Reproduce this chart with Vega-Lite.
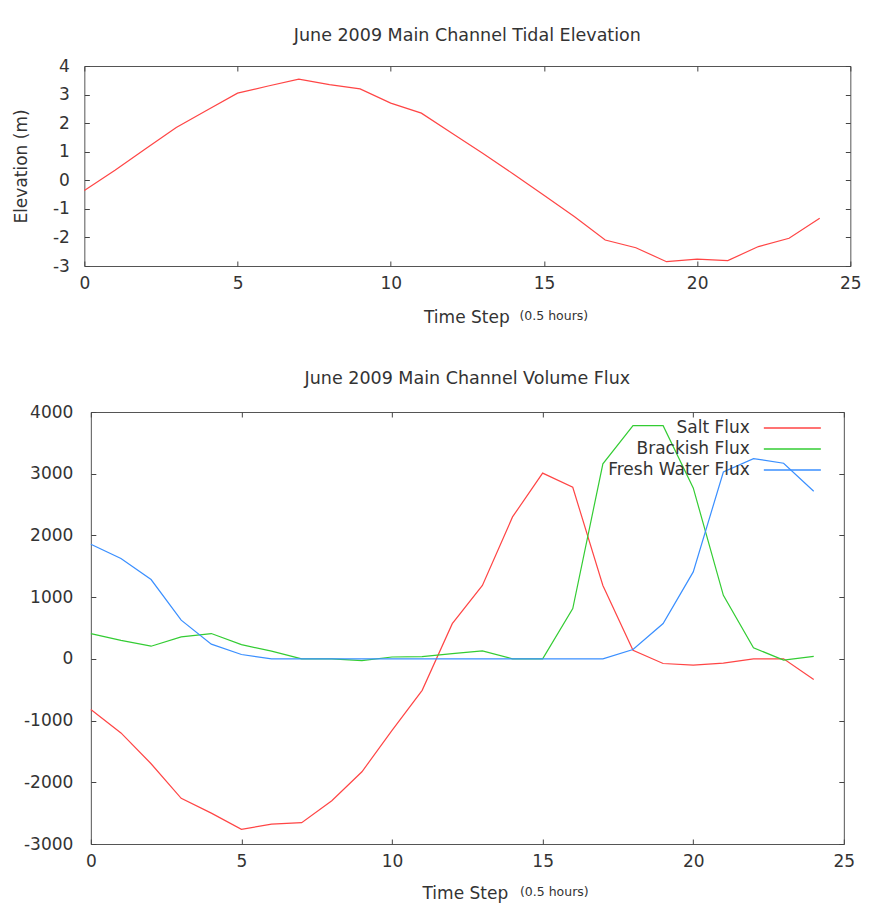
{
  "$schema": "https://vega.github.io/schema/vega-lite/v6.json",
  "padding": {"top": 26, "left": 11, "right": 4, "bottom": 4},
  "background": "white",
  "spacing": 43,
  "center": true,
  "resolve": {"legend": {"color": "independent"}},
  "datasets": {
    "elev": [
      {"t": 0, "elev": -0.36}, {"t": 1, "elev": 0.35}, {"t": 2, "elev": 1.1}, {"t": 3, "elev": 1.85},
      {"t": 4, "elev": 2.45}, {"t": 5, "elev": 3.05}, {"t": 6, "elev": 3.3}, {"t": 7, "elev": 3.54},
      {"t": 8, "elev": 3.35}, {"t": 9, "elev": 3.2}, {"t": 10, "elev": 2.7}, {"t": 11, "elev": 2.35},
      {"t": 12, "elev": 1.65}, {"t": 13, "elev": 0.95}, {"t": 14, "elev": 0.22}, {"t": 15, "elev": -0.52},
      {"t": 16, "elev": -1.28}, {"t": 17, "elev": -2.09}, {"t": 18, "elev": -2.36}, {"t": 19, "elev": -2.85},
      {"t": 20, "elev": -2.76}, {"t": 21, "elev": -2.81}, {"t": 22, "elev": -2.32}, {"t": 23, "elev": -2.03},
      {"t": 24, "elev": -1.33}
    ],
    "flux": [
      {"t": 0, "series": "Salt Flux", "v": -820}, {"t": 1, "series": "Salt Flux", "v": -1200},
      {"t": 2, "series": "Salt Flux", "v": -1700}, {"t": 3, "series": "Salt Flux", "v": -2260},
      {"t": 4, "series": "Salt Flux", "v": -2500}, {"t": 5, "series": "Salt Flux", "v": -2763},
      {"t": 6, "series": "Salt Flux", "v": -2677}, {"t": 7, "series": "Salt Flux", "v": -2655},
      {"t": 8, "series": "Salt Flux", "v": -2300}, {"t": 9, "series": "Salt Flux", "v": -1830},
      {"t": 10, "series": "Salt Flux", "v": -1160}, {"t": 11, "series": "Salt Flux", "v": -510},
      {"t": 12, "series": "Salt Flux", "v": 570}, {"t": 13, "series": "Salt Flux", "v": 1190},
      {"t": 14, "series": "Salt Flux", "v": 2300}, {"t": 15, "series": "Salt Flux", "v": 3010},
      {"t": 16, "series": "Salt Flux", "v": 2780}, {"t": 17, "series": "Salt Flux", "v": 1190},
      {"t": 18, "series": "Salt Flux", "v": 140}, {"t": 19, "series": "Salt Flux", "v": -75},
      {"t": 20, "series": "Salt Flux", "v": -100}, {"t": 21, "series": "Salt Flux", "v": -70},
      {"t": 22, "series": "Salt Flux", "v": 0}, {"t": 23, "series": "Salt Flux", "v": 0},
      {"t": 24, "series": "Salt Flux", "v": -335},
      {"t": 0, "series": "Brackish Flux", "v": 410}, {"t": 1, "series": "Brackish Flux", "v": 300},
      {"t": 2, "series": "Brackish Flux", "v": 205}, {"t": 3, "series": "Brackish Flux", "v": 355},
      {"t": 4, "series": "Brackish Flux", "v": 410}, {"t": 5, "series": "Brackish Flux", "v": 230},
      {"t": 6, "series": "Brackish Flux", "v": 125}, {"t": 7, "series": "Brackish Flux", "v": 0},
      {"t": 8, "series": "Brackish Flux", "v": 0}, {"t": 9, "series": "Brackish Flux", "v": -30},
      {"t": 10, "series": "Brackish Flux", "v": 30}, {"t": 11, "series": "Brackish Flux", "v": 35},
      {"t": 12, "series": "Brackish Flux", "v": 85}, {"t": 13, "series": "Brackish Flux", "v": 130},
      {"t": 14, "series": "Brackish Flux", "v": 0}, {"t": 15, "series": "Brackish Flux", "v": 0},
      {"t": 16, "series": "Brackish Flux", "v": 815}, {"t": 17, "series": "Brackish Flux", "v": 3160},
      {"t": 18, "series": "Brackish Flux", "v": 3778}, {"t": 19, "series": "Brackish Flux", "v": 3778},
      {"t": 20, "series": "Brackish Flux", "v": 2770}, {"t": 21, "series": "Brackish Flux", "v": 1030},
      {"t": 22, "series": "Brackish Flux", "v": 180}, {"t": 23, "series": "Brackish Flux", "v": -20},
      {"t": 24, "series": "Brackish Flux", "v": 40},
      {"t": 0, "series": "Fresh Water Flux", "v": 1857}, {"t": 1, "series": "Fresh Water Flux", "v": 1625},
      {"t": 2, "series": "Fresh Water Flux", "v": 1285}, {"t": 3, "series": "Fresh Water Flux", "v": 627},
      {"t": 4, "series": "Fresh Water Flux", "v": 238}, {"t": 5, "series": "Fresh Water Flux", "v": 71},
      {"t": 6, "series": "Fresh Water Flux", "v": 0}, {"t": 7, "series": "Fresh Water Flux", "v": 0},
      {"t": 8, "series": "Fresh Water Flux", "v": 0}, {"t": 9, "series": "Fresh Water Flux", "v": 0},
      {"t": 10, "series": "Fresh Water Flux", "v": 0}, {"t": 11, "series": "Fresh Water Flux", "v": 0},
      {"t": 12, "series": "Fresh Water Flux", "v": 0}, {"t": 13, "series": "Fresh Water Flux", "v": 0},
      {"t": 14, "series": "Fresh Water Flux", "v": 0}, {"t": 15, "series": "Fresh Water Flux", "v": 0},
      {"t": 16, "series": "Fresh Water Flux", "v": 0}, {"t": 17, "series": "Fresh Water Flux", "v": 0},
      {"t": 18, "series": "Fresh Water Flux", "v": 152}, {"t": 19, "series": "Fresh Water Flux", "v": 573},
      {"t": 20, "series": "Fresh Water Flux", "v": 1409}, {"t": 21, "series": "Fresh Water Flux", "v": 3028},
      {"t": 22, "series": "Fresh Water Flux", "v": 3245}, {"t": 23, "series": "Fresh Water Flux", "v": 3170},
      {"t": 24, "series": "Fresh Water Flux", "v": 2715}
    ]
  },
  "config": {
    "font": "DejaVu Sans",
    "view": {"stroke": "#555555", "strokeWidth": 1},
    "axis": {
      "grid": false, "domain": false, "ticks": true, "tickSize": -5, "tickColor": "#444444", "tickWidth": 1,
      "labelFont": "DejaVu Sans", "labelFontSize": 17, "labelColor": "#333333", "labelFlush": false, "labelOverlap": false,
      "titleFont": "DejaVu Sans", "titleFontSize": 17, "titleFontWeight": "normal", "titleColor": "#333333"
    },
    "title": {"font": "DejaVu Sans", "fontSize": 17.5, "fontWeight": "normal", "color": "#333333"},
    "legend": {
      "labelFont": "DejaVu Sans", "labelFontSize": 17, "labelColor": "#333333", "labelLimit": 400
    }
  },
  "vconcat": [
    {
      "title": {"text": "June 2009 Main Channel Tidal Elevation", "offset": 13},
      "width": 766,
      "height": 200,
      "data": {"name": "elev"},
      "layer": [
        {
          "mark": {"type": "line", "color": "#ff4545", "strokeWidth": 1.2},
          "encoding": {
            "x": {"field": "t", "type": "quantitative", "scale": {"domain": [0, 25], "nice": false},
              "axis": {"orient": "bottom", "values": [0, 5, 10, 15, 20, 25], "labelPadding": 14, "title": "Time Step",
                "titleX": 382, "titleY": 51, "titleAlign": "center", "titleBaseline": "middle"}},
            "y": {"field": "elev", "type": "quantitative", "scale": {"domain": [-3, 4], "nice": false},
              "axis": {"orient": "left", "values": [-3, -2, -1, 0, 1, 2, 3, 4], "labelPadding": 20, "title": "Elevation (m)", "titlePadding": 22,
                "labelExpr": "(datum.value < 0 ? '-' : '') + format(abs(datum.value), 'd')"}}
          }
        },
        {
          "mark": {"type": "line", "opacity": 0},
          "encoding": {
            "x": {"field": "t", "type": "quantitative",
              "axis": {"orient": "top", "values": [0, 5, 10, 15, 20, 25], "labels": false, "title": null}},
            "y": {"field": "elev", "type": "quantitative",
              "axis": {"orient": "right", "values": [-3, -2, -1, 0, 1, 2, 3, 4], "labels": false, "title": null}}
          }
        },
        {
          "mark": {"type": "line", "opacity": 0},
          "encoding": {
            "x": {"field": "t", "type": "quantitative",
              "axis": {"orient": "bottom", "ticks": false, "labels": false, "title": "(0.5 hours)", "titleFontSize": 12.5,
                "titleX": 469, "titleY": 49, "titleAlign": "center", "titleBaseline": "middle"}},
            "y": {"field": "elev", "type": "quantitative", "axis": null}
          }
        }
      ],
      "resolve": {"axis": {"x": "independent", "y": "independent"}}
    },
    {
      "title": {"text": "June 2009 Main Channel Volume Flux", "offset": 16},
      "width": 753,
      "height": 432,
      "data": {"name": "flux"},
      "layer": [
        {
          "mark": {"type": "line", "strokeWidth": 1.2},
          "encoding": {
            "x": {"field": "t", "type": "quantitative", "scale": {"domain": [0, 25], "nice": false},
              "axis": {"orient": "bottom", "values": [0, 5, 10, 15, 20, 25], "labelPadding": 14, "title": "Time Step",
                "titleX": 374, "titleY": 49, "titleAlign": "center", "titleBaseline": "middle"}},
            "y": {"field": "v", "type": "quantitative", "scale": {"domain": [-3000, 4000], "nice": false},
              "axis": {"orient": "left", "values": [-3000, -2000, -1000, 0, 1000, 2000, 3000, 4000], "labelPadding": 23, "title": null,
                "labelExpr": "(datum.value < 0 ? '-' : '') + format(abs(datum.value), 'd')"}},
            "color": {"field": "series", "type": "nominal",
              "scale": {"domain": ["Salt Flux", "Brackish Flux", "Fresh Water Flux"], "range": ["#ff4545", "#33cc33", "#3a8fff"]},
              "legend": {"orient": "none", "legendX": 688.5, "legendY": 3, "title": null, "padding": 0,
                "symbolType": "M-2.375,0H2.375", "symbolSize": 576, "symbolStrokeWidth": 1.3, "symbolOpacity": 1,
                "symbolFillColor": "transparent", "rowPadding": 0,
                "labelAlign": "right", "labelOffset": -55.5}}
          }
        },
        {
          "mark": {"type": "line", "opacity": 0},
          "encoding": {
            "x": {"field": "t", "type": "quantitative",
              "axis": {"orient": "top", "values": [0, 5, 10, 15, 20, 25], "labels": false, "title": null}},
            "y": {"field": "v", "type": "quantitative",
              "axis": {"orient": "right", "values": [-3000, -2000, -1000, 0, 1000, 2000, 3000, 4000], "labels": false, "title": null}}
          }
        },
        {
          "mark": {"type": "line", "opacity": 0},
          "encoding": {
            "x": {"field": "t", "type": "quantitative",
              "axis": {"orient": "bottom", "ticks": false, "labels": false, "title": "(0.5 hours)", "titleFontSize": 12.5,
                "titleX": 463, "titleY": 47, "titleAlign": "center", "titleBaseline": "middle"}},
            "y": {"field": "v", "type": "quantitative", "axis": null}
          }
        }
      ],
      "resolve": {"axis": {"x": "independent", "y": "independent"}}
    }
  ]
}
